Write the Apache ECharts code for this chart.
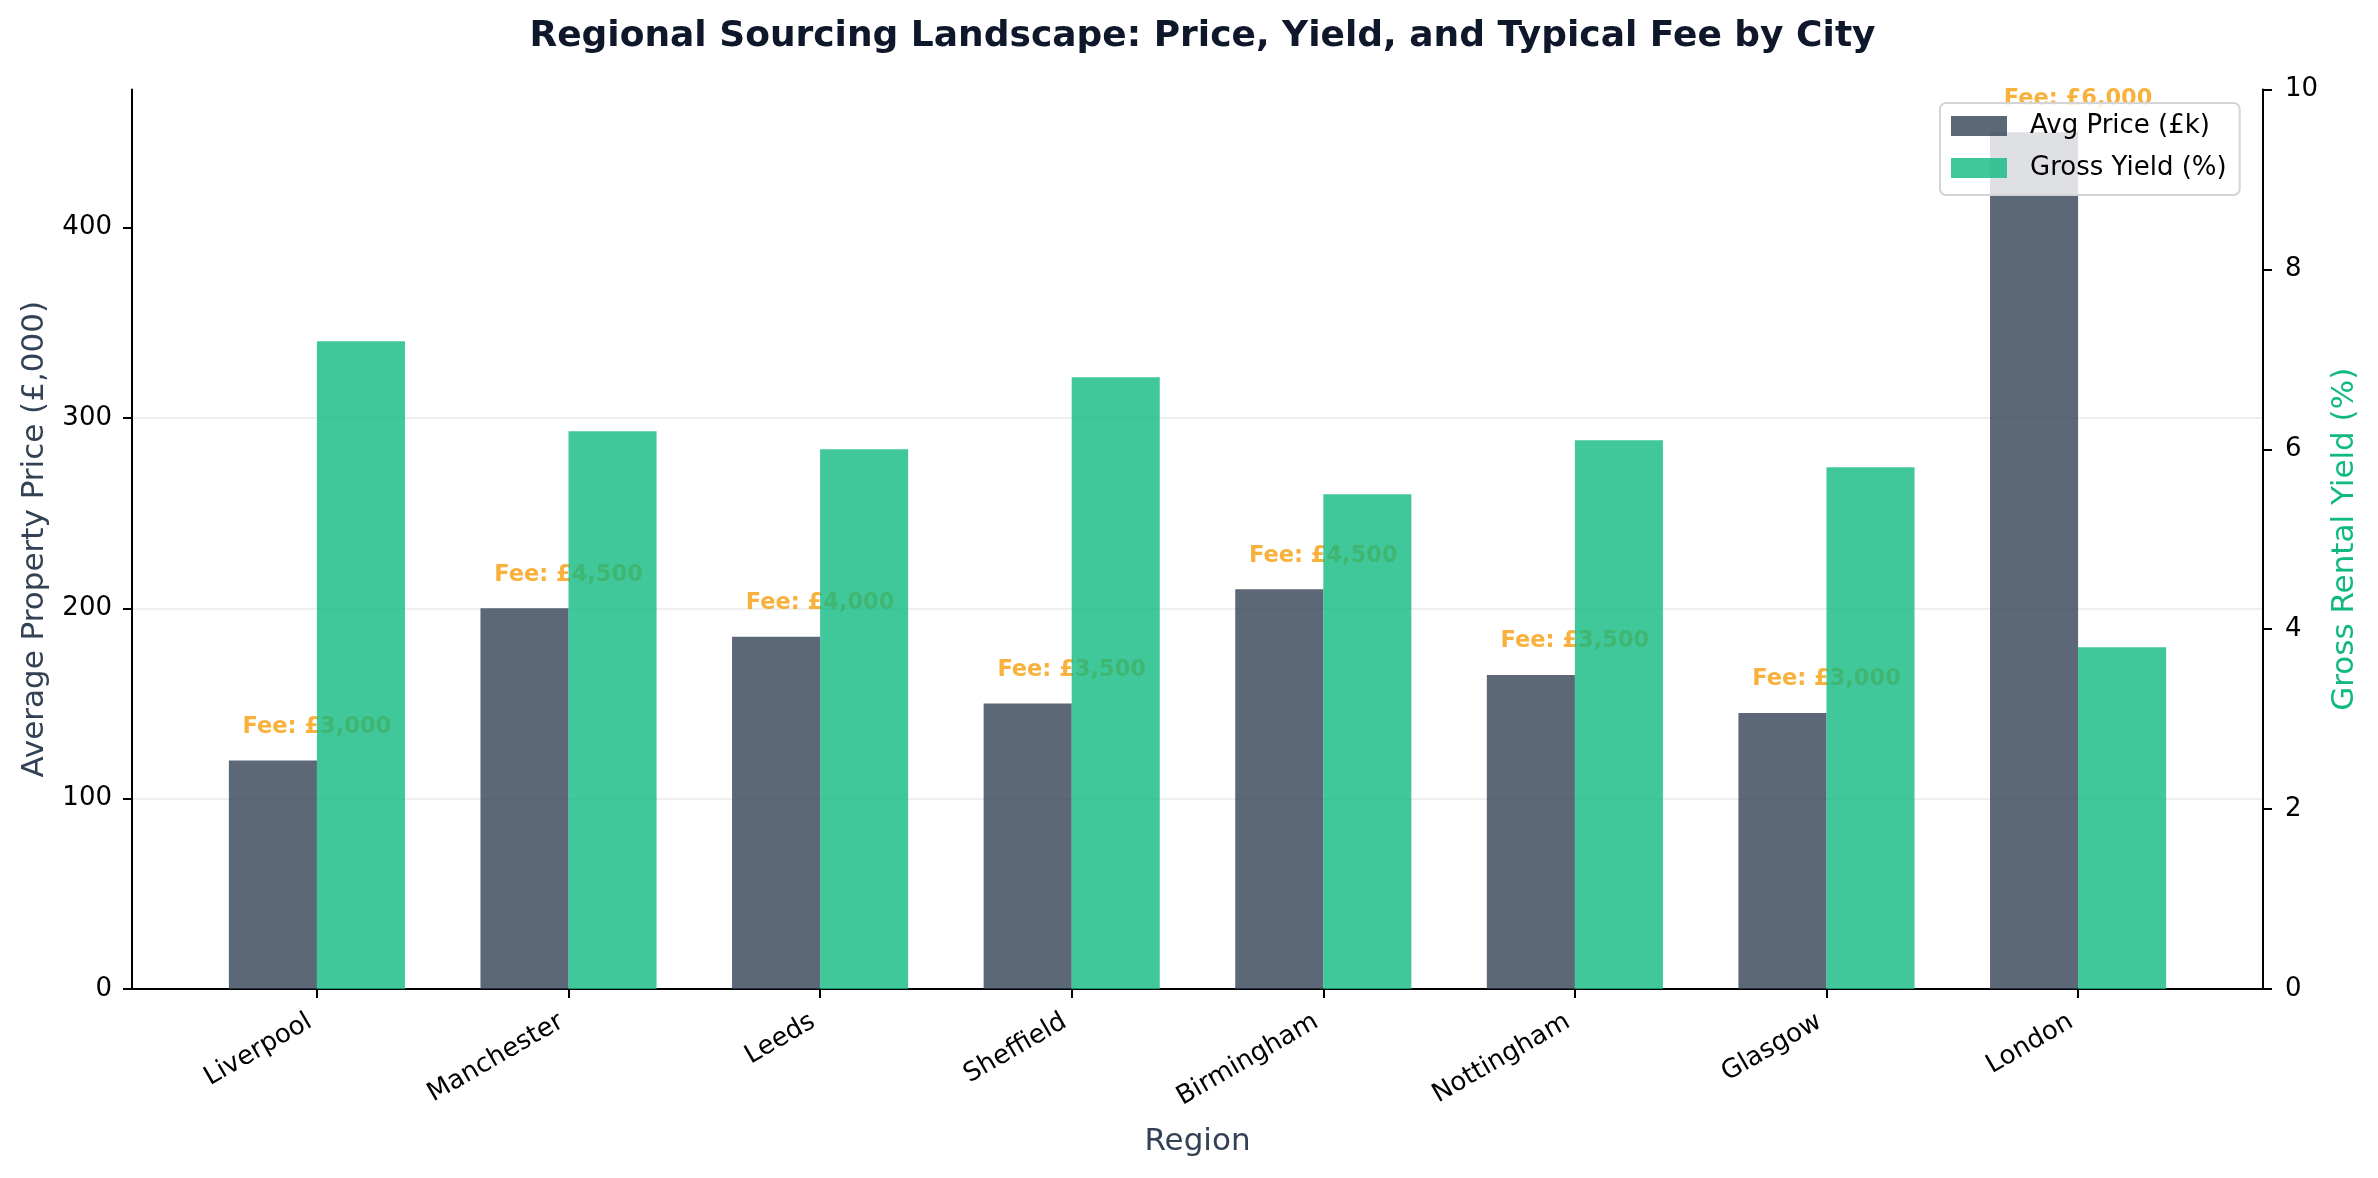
<!DOCTYPE html>
<html>
<head>
<meta charset="utf-8">
<script src="https://cdn.jsdelivr.net/npm/echarts@6/dist/echarts.min.js"></script>
<style>
html,body{margin:0;padding:0;background:#fff;}
#chart{width:2378px;height:1178px;}
</style>
</head>
<body>
<div id="chart"></div>
<script>
// ---- data ----
const cities = ['Liverpool','Manchester','Leeds','Sheffield','Birmingham','Nottingham','Glasgow','London'];
const avgPrice = [120, 200, 185, 150, 210, 165, 145, 450];      // £k
const grossYield = [7.2, 6.2, 6.0, 6.8, 5.5, 6.1, 5.8, 3.8];   // %
const typicalFee = [3000, 4500, 4000, 3500, 4500, 3500, 3000, 6000]; // £
const priceTicks = [0, 100, 200, 300, 400];
const yieldTicks = [0, 2, 4, 6, 8, 10];

const FONT = 'DejaVu Sans';
const chart = echarts.init(document.getElementById('chart'), null, {renderer: 'canvas'});
const idx = cities.map((c, i) => i);
const fmtFee = v => 'Fee: £' + v.toLocaleString('en-GB');

chart.setOption({
  animation: false,
  backgroundColor: '#ffffff',
  textStyle: {fontFamily: FONT},
  title: {
    text: 'Regional Sourcing Landscape: Price, Yield, and Typical Fee by City',
    left: 1197.5, top: 14, textAlign: 'center',
    textStyle: {fontFamily: FONT, fontSize: 36, fontWeight: 'bold', color: '#0f172a'}
  },
  legend: {
    orient: 'vertical',
    left: 1940, top: 103,
    data: ['Avg Price (£k)', 'Gross Yield (%)'],
    icon: 'rect',
    itemWidth: 56, itemHeight: 20, itemGap: 12,
    padding: [8, 13, 12, 11],
    backgroundColor: 'rgba(255,255,255,0.8)',
    borderColor: '#d4d4d4', borderWidth: 2, borderRadius: 6,
    textStyle: {fontFamily: FONT, fontSize: 26, color: '#000', lineHeight: 30, padding: [0, 0, 0, 18]},
    z: 10
  },
  grid: {left: 132, right: 115, top: 89.5, bottom: 189, containLabel: false},
  xAxis: {
    type: 'value', min: -0.735, max: 7.735,
    name: 'Region', nameLocation: 'middle', nameGap: 137,
    nameTextStyle: {fontFamily: FONT, fontSize: 31, color: '#334155'},
    axisLine: {show: true, onZero: false, lineStyle: {color: '#000', width: 2}},
    axisTick: {show: true, length: 9, customValues: idx, lineStyle: {color: '#000', width: 2}},
    axisLabel: {
      customValues: idx, rotate: 30, margin: 27, padding: [0, 8, 0, 0],
      fontFamily: FONT, fontSize: 26, color: '#000',
      formatter: v => cities[Math.round(v)]
    },
    splitLine: {show: false}
  },
  yAxis: [
    {
      type: 'value', min: 0, max: 472.5, interval: 100, position: 'left',
      name: 'Average Property Price (£,000)', nameLocation: 'middle', nameGap: 82, nameRotate: 90,
      nameTextStyle: {fontFamily: FONT, fontSize: 31, color: '#334155'},
      axisLine: {show: true, onZero: false, lineStyle: {color: '#000', width: 2}},
      axisTick: {show: true, length: 9, customValues: priceTicks, lineStyle: {color: '#000', width: 2}},
      axisLabel: {margin: 20, fontFamily: FONT, fontSize: 26, color: '#000',
        customValues: priceTicks},
      splitLine: {show: true, showMinLine: false, showMaxLine: false, lineStyle: {color: '#efefef', width: 2}}
    },
    {
      type: 'value', min: 0, max: 10, interval: 2, position: 'right',
      name: 'Gross Rental Yield (%)', nameLocation: 'middle', nameGap: 64, nameRotate: 90,
      nameTextStyle: {fontFamily: FONT, fontSize: 31, color: '#10b981'},
      axisLine: {show: true, onZero: false, lineStyle: {color: '#000', width: 2}},
      axisTick: {show: true, length: 9, customValues: yieldTicks, lineStyle: {color: '#000', width: 2}},
      axisLabel: {margin: 22, fontFamily: FONT, fontSize: 26, color: '#000',
        customValues: yieldTicks},
      splitLine: {show: false}
    }
  ],
  series: [
    {
      name: 'Avg Price (£k)', type: 'bar', yAxisIndex: 0,
      data: avgPrice.map((v, i) => [i, v]),
      barWidth: '35%', barGap: '0%',
      itemStyle: {color: 'rgba(51,65,85,0.8)'},
      z: 2, silent: true
    },
    {
      name: 'Gross Yield (%)', type: 'bar', yAxisIndex: 1,
      data: grossYield.map((v, i) => [i, v]),
      barWidth: '35%', barGap: '0%',
      itemStyle: {color: 'rgba(16,185,129,0.8)'},
      z: 3, silent: true
    },
    {
      name: 'fees', type: 'scatter', yAxisIndex: 0,
      data: avgPrice.map((v, i) => [i, v]),
      symbolSize: 1, itemStyle: {color: 'rgba(0,0,0,0)'},
      label: {
        show: true, position: 'top', distance: 21,
        formatter: p => fmtFee(typicalFee[p.dataIndex]),
        fontFamily: FONT, fontSize: 22.5, fontWeight: 'bold', color: '#f59e0b', lineHeight: 24
      },
      z: 1, silent: true
    }
  ]
});
</script>
</body>
</html>
